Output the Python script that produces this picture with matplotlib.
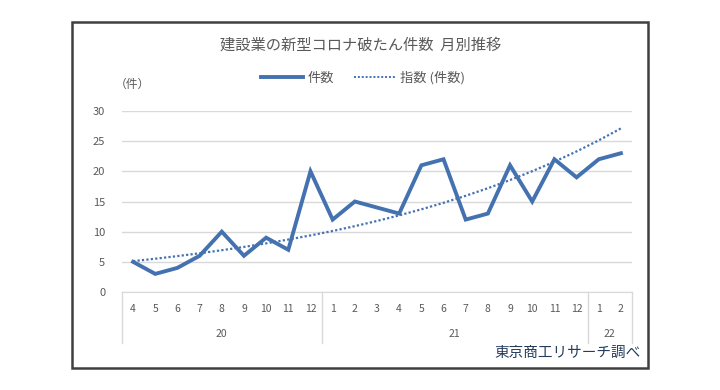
import numpy as np
import matplotlib.pyplot as plt
from matplotlib.lines import Line2D

plt.rcParams['font.family'] = ['Noto Sans CJK JP', 'DejaVu Sans']

months = ['4', '5', '6', '7', '8', '9', '10', '11', '12',
          '1', '2', '3', '4', '5', '6', '7', '8', '9', '10', '11', '12',
          '1', '2']
years = ['20', '21', '22']
year_sizes = [9, 12, 2]
cases = [5, 3, 4, 6, 10, 6, 9, 7, 20, 12, 15, 14, 13, 21, 22, 12, 13, 21, 15, 22, 19, 22, 23]

blue = '#4472B0'
grid = '#D9D9D9'
txt = '#595959'

x = np.arange(len(cases))
# exponential trend line, same as Excel's "指数" fit
b, ln_a = np.polyfit(x, np.log(cases), 1)
trend = np.exp(ln_a + b * x)

fig = plt.figure(figsize=(7.2, 3.9), dpi=100)
ax = fig.add_axes([122 / 720, 1 - 292 / 390, 510 / 720, 181 / 390])

ax.plot(x, cases, color=blue, lw=2.8, solid_joinstyle='miter', zorder=3)
ax.plot(x, trend, color=blue, lw=1.6, ls=(0, (1, 1)), zorder=2)

ax.set_xlim(-0.5, len(cases) - 0.5)
ax.set_ylim(0, 30)
ax.set_yticks(range(0, 31, 5))
ax.yaxis.grid(True, color=grid, lw=1)
ax.set_axisbelow(True)
for s in ['top', 'right', 'left']:
    ax.spines[s].set_visible(False)
ax.spines['bottom'].set_color(grid)
ax.tick_params(axis='y', length=0, pad=12, labelsize=8, labelcolor=txt)
ax.set_xticks([])

# two-level category axis
tr = ax.get_xaxis_transform()
for i, m in enumerate(months):
    ax.text(i, -0.092, m, transform=tr, ha='center', va='center', fontsize=7.5, color=txt)
edges = np.concatenate([[0], np.cumsum(year_sizes)]) - 0.5
for e in edges:
    ax.plot([e, e], [0, -0.28], transform=tr, color=grid, lw=1, clip_on=False)
for y, lo, hi in zip(years, edges[:-1], edges[1:]):
    ax.text((lo + hi) / 2, -0.232, y, transform=tr, ha='center', va='center', fontsize=7.5, color=txt)

fig.text(361 / 720, 1 - 45 / 390, '建設業の新型コロナ破たん件数  月別推移',
         ha='center', va='center', fontsize=11, color=txt)
fig.text(132 / 720, 1 - 84 / 390, '（件）', ha='center', va='center', fontsize=8.5, color=txt)
fig.text(641 / 720, 1 - 353 / 390, '東京商工リサーチ調べ',
         ha='right', va='center', fontsize=10.5, color='#253B5C')

handles = [Line2D([], [], color=blue, lw=2.8),
           Line2D([], [], color=blue, lw=1.4, ls=(0, (1, 1)))]
fig.legend(handles, ['件数', '指数 (件数)'], loc='center', bbox_to_anchor=(363 / 720, 1 - 78 / 390),
           ncol=2, frameon=False, fontsize=9.5, handlelength=3.2, handletextpad=0.3,
           columnspacing=1.5, labelcolor=txt)

# outer frame
fig.patches.append(plt.Rectangle((72 / 720, 1 - 368 / 390), 576 / 720, 346 / 390,
                                 transform=fig.transFigure, fill=False, ec='#404040', lw=1.8))

fig.savefig('out.png', dpi=100)
